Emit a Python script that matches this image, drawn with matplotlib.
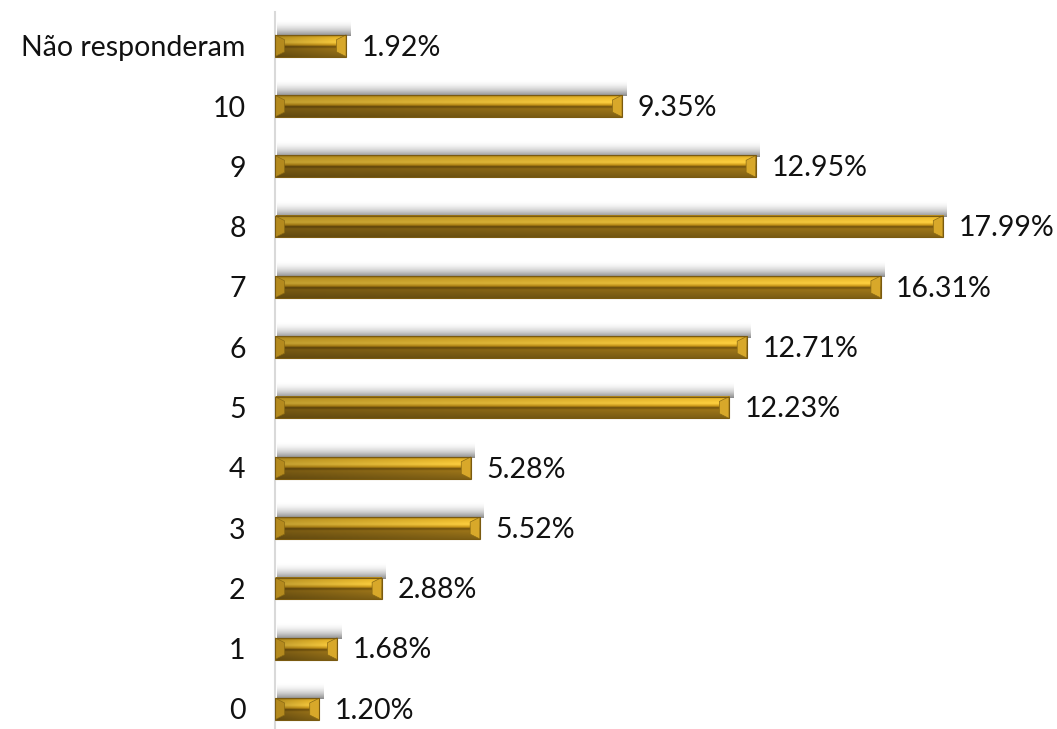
import numpy as np
import matplotlib.pyplot as plt
from matplotlib.colors import LinearSegmentedColormap
from matplotlib.patches import Polygon, Rectangle

# данные
categories = ["0", "1", "2", "3", "4", "5", "6", "7", "8", "9", "10", "Não responderam"]
values = [1.20, 1.68, 2.88, 5.52, 5.28, 12.23, 12.71, 16.31, 17.99, 12.95, 9.35, 1.92]
labels = ["1.20%", "1.68%", "2.88%", "5.52%", "5.28%", "12.23%", "12.71%",
          "16.31%", "17.99%", "12.95%", "9.35%", "1.92%"]

plt.rcParams['font.family'] = ['Lato', 'DejaVu Sans']

fig = plt.figure(figsize=(10.57, 7.29), dpi=100)
ax = fig.add_axes([0.26, 0.0, 0.687, 1 - 12 / 729])

bar_h = 0.36
xmax = 725 / 37.08

# вертикальный градиент золота (сверху вниз)
stops = [(0.0, "#a87e18"), (0.1, "#e2b228"), (0.33, "#f4c83e"), (0.45, "#c69418"),
         (0.53, "#6a4c0c"), (0.62, "#967018"), (1.0, "#7a5c14")]
cmap = LinearSegmentedColormap.from_list("gold", stops)
rows = cmap(np.linspace(0, 1, 60))[:, :3]

shadow = np.zeros((40, 2, 4))
shadow[..., :3] = 0.38
shadow[..., 3] = 0.75 * np.linspace(0.0, 1.0, 40)[:, None] ** 2

for i, v in enumerate(values):
    yb, yt = i - bar_h / 2, i + bar_h / 2
    # тень над столбиком
    ax.imshow(shadow, extent=[0.05, v + 0.1, yt - 0.02, yt + 0.26], aspect='auto',
              interpolation='bilinear', zorder=1)
    # градиент столбика
    horiz = np.linspace(0.8, 1.05, 80)
    img = np.clip(rows[:, None, :] * horiz[None, :, None], 0, 1)
    ax.imshow(img, extent=[0, v, yb, yt], aspect='auto', interpolation='bilinear', zorder=2)
    ax.add_patch(Rectangle((0, yb), v, bar_h, fill=False, ec="#7a5a10", lw=0.8, zorder=4))
    # фаски на концах
    d = min(0.26, v * 0.25)
    e = bar_h * 0.22
    ax.add_patch(Polygon([(v - d, yb + e), (v - d, yt - e), (v, yt), (v, yb)],
                         closed=True, fc="#d8a82a", ec="#8a6a14", lw=0.5, zorder=3))
    ax.add_patch(Polygon([(0, yt), (d, yt - e), (d, yb + e), (0, yb)],
                         closed=True, fc="#b48a1e", ec="#8a6a14", lw=0.5, zorder=3))
    ax.text(v + 0.42, i - 0.03, labels[i], va='center', ha='left', fontsize=20.5, color="#111111")

ax.set_xlim(0, xmax)
ax.set_ylim(-0.332, 11.56)
ax.set_yticks(range(len(categories)))
ax.set_yticklabels(categories, fontsize=20.5, color="#111111")
ax.tick_params(axis='y', length=0, pad=21)
ax.set_xticks([])
for s in ['top', 'right', 'bottom']:
    ax.spines[s].set_visible(False)
ax.spines['left'].set_color("#d9d9d9")
ax.spines['left'].set_linewidth(1.5)

fig.savefig("out.png", dpi=100)
